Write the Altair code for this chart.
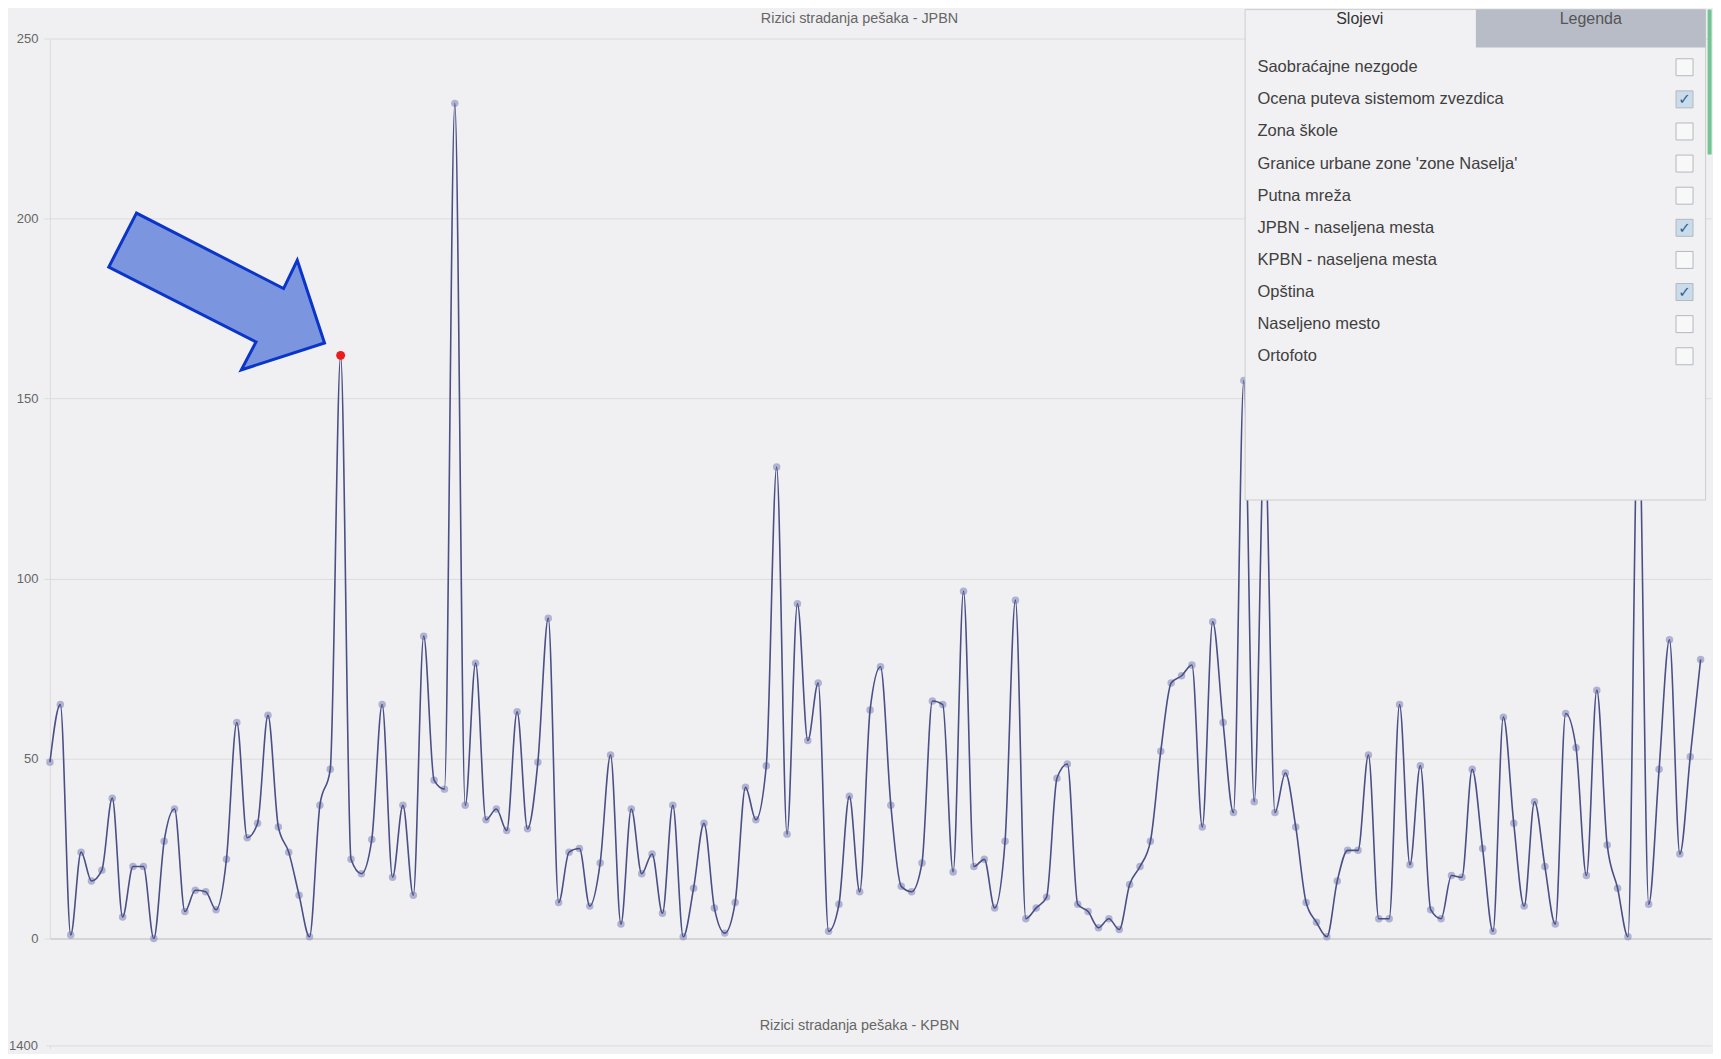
import altair as alt
import pandas as pd

# ---------------- data ----------------
chart_title_top = "Rizici stradanja pešaka - JPBN"
chart_title_bottom = "Rizici stradanja pešaka - KPBN"

jpbn_values = [49, 65, 1, 24, 16, 19, 39, 6, 20, 20,
               0, 27, 36, 7.5, 13.4, 13, 8, 22, 60, 28,
               32, 62, 31, 24, 12, 0.5, 37, 47, 162, 22,
               18, 27.5, 65, 17, 37, 12, 84, 44, 41.5, 232,
               37, 76.5, 33, 36, 30, 63, 30.5, 49, 89, 10,
               24, 25, 9, 21, 51, 4, 36, 18, 23.5, 7,
               37, 0.5, 14, 32, 8.5, 1.5, 10, 42, 33, 48,
               131, 29, 93, 55, 71, 2, 9.5, 39.5, 13, 63.5,
               75.5, 37, 14.5, 13, 21, 66, 65, 18.5, 96.5, 20,
               22, 8.5, 27, 94, 5.5, 8.5, 11.5, 44.5, 48.5, 9.5,
               7.5, 3, 5.5, 2.5, 15, 20, 27, 52, 71, 73,
               76, 31, 88, 60, 35, 155, 38, 140, 35, 46,
               31, 10, 4.5, 0.5, 16, 24.5, 24.5, 51, 5.5, 5.5,
               65, 20.5, 48, 8, 5.5, 17.5, 17, 47, 25, 2,
               61.5, 32, 9, 38, 20, 4, 62.5, 53, 17.5, 69,
               26, 14, 0.5, 150, 9.5, 47, 83, 23.5, 50.5, 77.5]
jpbn_index = list(range(len(jpbn_values)))
highlight_index = 28
y_ticks_top = [0, 50, 100, 150, 200, 250]
y_ticks_bottom = [1400]

tab_labels = ["Slojevi", "Legenda"]
layer_names = ["Saobraćajne nezgode", "Ocena puteva sistemom zvezdica", "Zona škole",
               "Granice urbane zone 'zone Naselja'", "Putna mreža",
               "JPBN - naseljena mesta", "KPBN - naseljena mesta", "Opština",
               "Naseljeno mesto", "Ortofoto"]
layer_checked = [False, True, False, False, False, True, False, True, False, False]

# ---------------- styles ----------------
BG = "#f0f0f2"
FONT = "Liberation Sans"
GRID = "#dcdcdc"
W = 1663

df = pd.DataFrame({"idx": jpbn_index, "value": jpbn_values})
one = pd.DataFrame({"k": [0]})
layers_df = pd.DataFrame({"row": list(range(len(layer_names))),
                          "name": layer_names, "checked": layer_checked})

x_enc = alt.X("idx:Q", scale=alt.Scale(domain=[0, 160], nice=False, zero=False),
              axis=alt.Axis(labels=False, ticks=False, grid=False, domain=True,
                            domainColor="#c2c2c2", title=None))
y_enc = alt.Y("value:Q", scale=alt.Scale(domain=[0, 250], nice=False),
              axis=alt.Axis(values=y_ticks_top, title=None, grid=True, gridColor=GRID,
                            domainColor=GRID, tickColor=GRID, tickSize=6, labelPadding=6,
                            labelFontSize=13, labelColor="#666", labelFont=FONT))

base = alt.Chart(df).encode(x=x_enc, y=y_enc)
pts = base.mark_circle(size=56, color="#9295c3", opacity=0.68)
line = base.mark_line(interpolate="monotone", color="#4a4f86", strokeWidth=1.6)
red = base.transform_filter(f"datum.idx == {highlight_index}").mark_circle(
    size=80, color="#ee1b1b", opacity=1)

arrow_path = ("M -80.3 -78.5 L -108 -24.5 L 39.4 50.5 L 24.7 78.5 "
              "L 108 51.5 L 80.7 -31.2 L 67 -2.9 Z")
arrow = alt.Chart(one).mark_point(shape=arrow_path, size=4, filled=True, fill="#7b96de",
                                  stroke="#0b35c9", strokeWidth=3, opacity=1).encode(
    x=alt.value(166.9), y=alt.value(253.2))

panel = alt.Chart(one).mark_rect(fill="#f1f1f3", stroke="#cdcdcd", strokeWidth=1).encode(
    x=alt.value(1196.6), x2=alt.value(1657.6), y=alt.value(-29), y2=alt.value(462))
tab2 = alt.Chart(one).mark_rect(fill="#b8bcc7").encode(
    x=alt.value(1427.6), x2=alt.value(1657.6), y=alt.value(-29), y2=alt.value(9))
tab1_text = alt.Chart(one).mark_text(text=tab_labels[0], font=FONT, fontSize=16,
                                     color="#333").encode(x=alt.value(1311.3), y=alt.value(-19.5))
tab2_text = alt.Chart(one).mark_text(text=tab_labels[1], font=FONT, fontSize=16,
                                     color="#555").encode(x=alt.value(1542.6), y=alt.value(-19.5))
green = alt.Chart(one).mark_rect(fill="#72c592").encode(
    x=alt.value(1659.6), x2=alt.value(1663.6), y=alt.value(-29), y2=alt.value(116))

items = alt.Chart(layers_df).transform_calculate(py="28.7 + 32.15 * datum.row")
item_text = items.mark_text(align="left", baseline="middle", font=FONT, fontSize=16.5,
                            color="#404040").encode(
    x=alt.value(1208.9), y=alt.Y("py:Q", scale=None, axis=None), text="name:N")
boxes = items.mark_point(shape="square", size=289, filled=True, stroke="#b4b8bf",
                         strokeWidth=1, opacity=1).encode(
    x=alt.value(1636.5), y=alt.Y("py:Q", scale=None, axis=None),
    fill=alt.condition("datum.checked", alt.value("#cadcea"), alt.value("#f8f8f8")))
checks = items.transform_filter("datum.checked").mark_text(
    text="✓", font="DejaVu Sans", fontSize=15, color="#2f5f96", fontWeight="bold").encode(
    x=alt.value(1636.5), y=alt.Y("py:Q", scale=None, axis=None))

top = alt.layer(pts, line, red, arrow, panel, tab2, tab1_text, tab2_text, green,
                item_text, boxes, checks).properties(
    width=W, height=901,
    title=alt.TitleParams(chart_title_top, font=FONT, fontSize=14.4, fontWeight="normal",
                          color="#666", anchor="middle", frame="group", dx=-21,
                          offset=0, dy=17.3))

kpbn_df = pd.DataFrame({"idx": [0], "value": [y_ticks_bottom[0]]})
bottom = alt.Chart(kpbn_df).mark_point(opacity=0).encode(
    x=alt.X("idx:Q", scale=alt.Scale(domain=[0, 160], nice=False), axis=None),
    y=alt.Y("value:Q", scale=alt.Scale(domain=[0, 1400], nice=False),
            axis=alt.Axis(values=y_ticks_bottom, format="d", title=None, grid=True,
                          gridColor=GRID, domainColor=GRID, tickColor=GRID, tickSize=4,
                          labelPadding=8.5, labelFontSize=13, labelColor="#666",
                          labelFont=FONT))
).properties(width=W, height=3,
             title=alt.TitleParams(chart_title_bottom, font=FONT, fontSize=14.4,
                                   fontWeight="normal", color="#666", anchor="middle",
                                   frame="group", dx=-21, offset=6))

chart = alt.vconcat(top, bottom, spacing=71).properties(
    padding=0, background=BG).configure_view(stroke="transparent")

chart.save("out.html", embed_options={"renderer": "svg", "actions": False})
